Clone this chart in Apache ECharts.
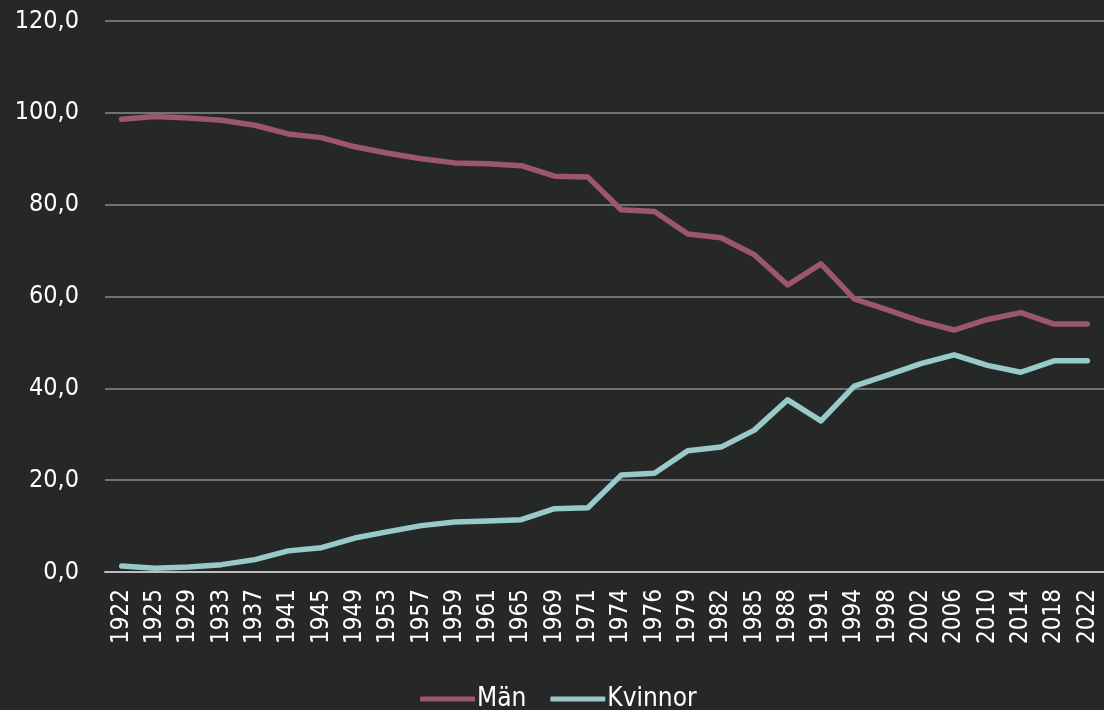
<!DOCTYPE html>
<html>
<head>
<meta charset="utf-8">
<script src="https://cdn.jsdelivr.net/npm/echarts@6/dist/echarts.min.js"></script>
<style>
html,body{margin:0;padding:0;background:#262727;}
#c{width:1104px;height:710px;}
</style>
</head>
<body>
<div id="c"></div>
<script>
const years = ['1922','1925','1929','1933','1937','1941','1945','1949','1953','1957','1959','1961','1965','1969','1971','1974','1976','1979','1982','1985','1988','1991','1994','1998','2002','2006','2010','2014','2018','2022'];
const man = [98.6,99.2,98.9,98.4,97.3,95.4,94.6,92.6,91.2,90.0,89.1,88.9,88.5,86.2,86.0,78.9,78.5,73.6,72.8,69.1,62.5,67.1,59.5,57.1,54.6,52.7,55.0,56.5,54.0,54.0];
const kvinnor = [1.3,0.8,1.1,1.6,2.7,4.6,5.3,7.4,8.8,10.1,10.9,11.1,11.4,13.8,14.0,21.1,21.5,26.4,27.2,30.9,37.5,32.9,40.5,42.9,45.4,47.3,45.0,43.5,46.0,46.0];
const yTicks = {min:0, max:120, interval:20};

const FONT = '"DejaVu Sans Condensed", "DejaVu Sans", sans-serif';
const chart = echarts.init(document.getElementById('c'));
chart.setOption({
  backgroundColor:'#262727',
  animation:false,
  textStyle:{fontFamily:FONT},
  grid:{left:105,right:0,top:21,bottom:138,containLabel:false},
  legend:{
    top:681,left:415,
    itemWidth:55,itemHeight:5,itemGap:24,
    icon:'roundRect',
    textStyle:{color:'#ffffff',fontSize:26,fontFamily:FONT,padding:[0,0,0,-3]},
    data:['Män','Kvinnor']
  },
  xAxis:{
    type:'category',
    data:years,
    boundaryGap:true,
    axisLine:{show:true,lineStyle:{color:'#bdbdbd',width:2}},
    axisTick:{show:false},
    axisLabel:{color:'#ffffff',fontSize:24,rotate:90,interval:0,margin:17,fontFamily:FONT}
  },
  yAxis:{
    type:'value',
    min:yTicks.min,max:yTicks.max,interval:yTicks.interval,
    axisLine:{show:false},
    axisTick:{show:false},
    splitLine:{lineStyle:{color:'#8c8c8c',width:1.5}},
    axisLabel:{color:'#ffffff',fontSize:25,margin:26,fontFamily:FONT,
      formatter:v=>v.toFixed(1).replace('.',',')}
  },
  series:[
    {name:'Män',type:'line',data:man,symbol:'none',lineStyle:{color:'#9c5670',width:5.5,cap:'round',join:'round'},itemStyle:{color:'#9c5670'}},
    {name:'Kvinnor',type:'line',data:kvinnor,symbol:'none',lineStyle:{color:'#97cac9',width:5.5,cap:'round',join:'round'},itemStyle:{color:'#97cac9'}}
  ]
});
</script>
</body>
</html>
